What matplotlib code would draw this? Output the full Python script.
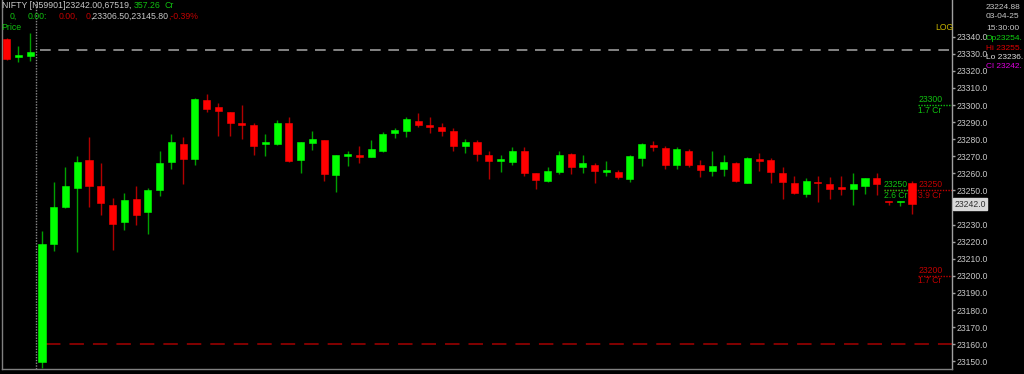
import matplotlib
matplotlib.use("Agg")
import matplotlib.pyplot as plt
import matplotlib.transforms as mtransforms
import numpy as np

# ---- data ----
opens = [23338.5, 23328.3, 23328.7, 23149.7, 23218.6, 23240.3, 23251.6, 23267.8, 23252.8, 23241.5,
         23231.3, 23245.0, 23237.4, 23250.1, 23266.5, 23277.4, 23268.6, 23302.8, 23298.7, 23295.9,
         23289.3, 23288.1, 23277.2, 23277.4, 23289.6, 23267.8, 23277.8, 23279.3, 23259.0, 23270.2,
         23270.9, 23269.4, 23273.3, 23283.8, 23285.0, 23290.5, 23288.5, 23287.0, 23284.8, 23275.8,
         23278.2, 23270.6, 23267.0, 23266.8, 23273.1, 23260.4, 23255.5, 23260.8, 23271.3, 23263.9,
         23265.1, 23261.0, 23261.0, 23256.7, 23269.2, 23276.6, 23274.8, 23264.7, 23273.3, 23265.1,
         23261.5, 23262.7, 23266.1, 23254.6, 23268.2, 23267.8, 23260.0, 23254.2, 23248.1, 23255.1,
         23253.9, 23252.0, 23251.0, 23252.8, 23257.1, 23243.8, 23243.0, 23254.5]
highs = [23339.2, 23334.6, 23342.0, 23226.2, 23254.9, 23263.9, 23270.2, 23281.3, 23265.9, 23245.6,
         23248.7, 23252.8, 23251.2, 23273.1, 23282.9, 23281.3, 23304.3, 23306.5, 23301.0, 23295.9,
         23300.0, 23289.3, 23282.9, 23291.2, 23293.2, 23278.2, 23284.6, 23279.3, 23270.6, 23273.1,
         23276.0, 23279.7, 23284.4, 23286.4, 23293.2, 23295.2, 23292.8, 23289.3, 23286.4, 23279.9,
         23279.5, 23273.3, 23270.7, 23275.6, 23275.6, 23260.4, 23263.5, 23273.3, 23271.7, 23270.9,
         23265.9, 23267.2, 23262.0, 23270.7, 23277.6, 23278.9, 23276.2, 23275.4, 23274.4, 23267.8,
         23272.9, 23270.9, 23266.5, 23269.4, 23271.7, 23269.2, 23263.9, 23258.4, 23257.1, 23258.6,
         23257.7, 23258.4, 23260.0, 23257.1, 23260.0, 23243.8, 23243.8, 23255.5]
lows = [23326.4, 23325.2, 23325.9, 23145.8, 23214.7, 23239.8, 23213.9, 23240.1, 23235.6, 23215.1,
        23226.8, 23229.6, 23224.3, 23246.9, 23262.4, 23253.9, 23265.1, 23296.1, 23281.9, 23281.9,
        23279.9, 23270.7, 23270.2, 23276.6, 23266.6, 23260.4, 23273.7, 23255.7, 23249.2, 23264.6,
        23265.9, 23269.4, 23272.5, 23280.7, 23281.5, 23287.3, 23283.4, 23282.0, 23273.3, 23271.7,
        23267.4, 23256.5, 23261.0, 23264.9, 23258.4, 23250.7, 23255.1, 23259.8, 23259.6, 23260.0,
        23254.5, 23258.4, 23256.5, 23255.1, 23264.5, 23272.9, 23262.7, 23262.7, 23263.5, 23258.0,
        23258.6, 23258.6, 23254.8, 23254.2, 23261.5, 23254.5, 23244.8, 23247.9, 23246.3, 23243.4,
        23245.1, 23247.3, 23241.3, 23247.7, 23247.3, 23241.5, 23241.1, 23236.5]
closes = [23327.1, 23329.5, 23331.2, 23218.4, 23240.3, 23252.4, 23266.5, 23252.4, 23242.8, 23230.2,
          23244.6, 23235.4, 23250.0, 23266.2, 23278.2, 23268.2, 23303.5, 23297.7, 23296.5, 23289.3,
          23288.1, 23276.0, 23278.5, 23289.6, 23267.0, 23278.2, 23280.1, 23259.6, 23270.6, 23271.5,
          23269.7, 23274.1, 23282.9, 23285.5, 23291.6, 23288.3, 23287.3, 23284.8, 23276.2, 23278.5,
          23271.1, 23267.0, 23268.2, 23273.3, 23260.0, 23256.1, 23261.1, 23270.7, 23263.9, 23265.9,
          23261.5, 23262.0, 23257.7, 23270.2, 23277.2, 23275.2, 23264.9, 23274.1, 23265.1, 23262.1,
          23264.3, 23266.8, 23255.7, 23269.0, 23267.4, 23260.8, 23254.8, 23248.7, 23255.7, 23254.2,
          23251.0, 23250.8, 23253.6, 23257.1, 23253.6, 23243.0, 23243.8, 23242.0]

y_ticks = [23150, 23160, 23170, 23180, 23190, 23200, 23210, 23220, 23230, 23240, 23250,
           23260, 23270, 23280, 23290, 23300, 23310, 23320, 23330, 23340]
last_price = 23242.0
prev_level = 23332.2
low_level = 23160.0
day_sep = 2.5

header1 = [("NIFTY [N59901]23242.00,67519,", "#c8c8c8", 1.7), ("357.26", "#10c010", 134), ("Cr", "#10c010", 164.5)]
header2 = [("0,", "#10c010", 10), ("0.00:", "#10c010", 28), ("0.00,", "#c00000", 59), ("0", "#c00000", 86),
           (",23306.50,23145.80", "#c8c8c8", 90.3), (",-0.39%", "#c00000", 168.5)]
info_lines = [("23224.88", "#c8c8c8"), ("03-04-25", "#c8c8c8"), ("15:30:00", "#c8c8c8")]
ohlc_lines = [("Op23254.", "#10d010"), ("Hi 23255.", "#e00000"),
              ("Lo 23236.", "#e0e0e0"), ("Cl 23242.", "#e000e0")]

# level markers: (level, price text, volume text, colour, line start, line end, text x)
levels = [(23300, "23300", "1.7 Cr", "#10c010", 77.5, 80.4, 77.55),
          (23250, "23250", "3.9 Cr", "#c00000", 74.6, 80.4, 77.55),
          (23200, "23200", "1.7 Cr", "#c00000", 77.5, 80.4, 77.55),
          (23250, "23250", "2.6 Cr", "#10c010", 74.6, 76.8, 74.6)]

FONT = "Liberation Sans"
plt.rcParams['font.family'] = [FONT, 'DejaVu Sans']

W, H = 1024, 374
fig = plt.figure(figsize=(W / 100, H / 100), dpi=100, facecolor="black")
ax_left, ax_right, ax_bottom_px = 2, 952, 369.3
ax = fig.add_axes([ax_left / W, (H - ax_bottom_px) / H, (ax_right - ax_left) / W, ax_bottom_px / H])
ax.set_facecolor("black")

x = np.arange(len(opens))
o = np.array(opens); c = np.array(closes); h = np.array(highs); l = np.array(lows)
up = c >= o
body_col = np.where(up, "#00ff00", "#ff0000")
wick_col = np.where(up, "#00a000", "#b00000")

ax.vlines(x, l, h, colors=wick_col, linewidth=1.0, zorder=3)
bottoms = np.minimum(o, c)
heights = np.maximum(np.abs(c - o), 0.8)
ax.bar(x, heights, bottom=bottoms, width=0.6, color=body_col, edgecolor=body_col,
       linewidth=0.4, zorder=4)

ax.set_xlim(-0.40, 80.40)
ax.set_ylim(23145.3, 23361.5)

# reference lines
ax.axvline(day_sep, color="#8a8a8a", linestyle=(0, (1, 1)), linewidth=1.0, zorder=2)
ax.hlines(prev_level, 2.8, 80.4, colors="#a8a8a8", linestyles=(0, (7, 5)), linewidth=1.1, zorder=2)
ax.hlines(low_level, 3.35, 80.4, colors="#8c0000", linestyles=(0, (8, 5)), linewidth=1.3, zorder=2)

for lev, t1, t2, col, xs, xe, tx in levels:
    ax.hlines(lev, xs, xe, colors=col, linestyles=(0, (1, 1)), linewidth=1.0, zorder=2)
    ax.text(tx, lev + 3.3, t1, color=col, fontsize=6.2, ha="left", va="center", zorder=6)
    ax.text(tx, lev - 3.0, t2, color=col, fontsize=6.2, ha="left", va="center", zorder=6)

# axes styling
ax.spines["top"].set_visible(False)
ax.spines["left"].set_color("#808080")
ax.spines["bottom"].set_color("#808080")
ax.spines["right"].set_color("#a0a0a0")
for s in ["left", "bottom", "right"]:
    ax.spines[s].set_linewidth(1.0)
ax.set_xticks([])
ax.yaxis.tick_right()
ax.set_yticks(y_ticks)
# the 23240 label sits under the last-price box in the reference
ax.set_yticklabels(["" if v == 23240 else f"{v:.1f}" for v in y_ticks])
ax.tick_params(axis="y", colors="#a0a0a0", labelcolor="#c8c8c8", labelsize=6.2,
               length=2, width=1, pad=1, direction="out")

# last price box
trans = mtransforms.blended_transform_factory(ax.transAxes, ax.transData)
ax.text(1.0 + 2.5 / (ax_right - ax_left), last_price, f"{last_price:.1f}", transform=trans,
        color="#303030", fontsize=6.2, ha="left", va="center", zorder=7,
        bbox=dict(boxstyle="square,pad=0.15", facecolor="#d8d8d8", edgecolor="#d8d8d8"),
        clip_on=False)

def ftext(px, py, s, col, size=6.3, **kw):
    fig.text(px / W, 1 - py / H, s, color=col, fontsize=size, ha="left", va="center", **kw)

for s, col, px in header1:
    ftext(px, 6, s, col)
for s, col, px in header2:
    ftext(px, 16.7, s, col)
ftext(1.7, 27.5, "Price", "#10c010")
ftext(935, 27.5, "LOG", "#c8b400", size=6.2)

info_y = [7.3, 17, 28.3]
for (s, col), py in zip(info_lines, info_y):
    ftext(986, py, s, col, size=6.0)
ohlc_y = [38.3, 48.3, 57.5, 67]
for (s, col), py in zip(ohlc_lines, ohlc_y):
    ftext(986, py, s, col, size=6.0)

fig.savefig("out.png", dpi=100, facecolor="black")
